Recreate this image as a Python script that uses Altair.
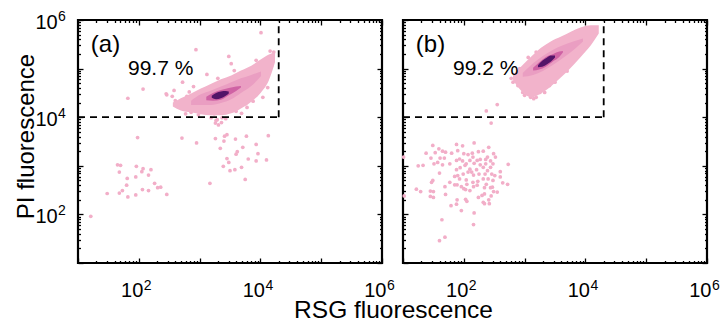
import altair as alt
import numpy as np
import pandas as pd

# Axis range (fluorescence, arbitrary units) and gate thresholds
AXIS_MIN, AXIS_MAX = 10.0, 1.0e6
GATE_RSG, GATE_PI = 2.0e4, 1.0e4

# Events outside the main population, as (log10 RSG, log10 PI)
A_EVENTS = [
    (1.98, 3.58), (2.71, 3.57), (2.95, 3.47), (3.26, 3.56), (3.41, 3.61),
    (3.45, 3.64), (3.40, 3.51), (3.59, 3.55), (3.77, 3.61), (4.13, 3.62),
    (3.34, 3.36), (3.71, 3.38), (3.93, 3.44), (3.62, 3.29), (3.60, 3.24),
    (3.45, 3.15), (3.48, 3.07), (3.80, 3.14), (3.96, 3.25), (3.93, 3.10),
    (4.10, 3.12), (3.39, 2.99), (3.50, 2.90), (3.58, 2.92), (3.69, 2.97),
    (3.75, 2.72), (3.17, 2.64), (1.65, 3.02), (1.70, 3.01), (1.68, 2.87),
    (1.96, 2.99), (2.07, 2.94), (2.05, 2.88), (2.20, 2.92), (2.16, 2.81),
    (1.81, 2.74), (1.95, 2.77), (2.26, 2.64), (2.31, 2.55), (2.36, 2.56),
    (1.80, 2.60), (1.73, 2.49), (1.68, 2.44), (1.48, 2.43), (1.82, 2.36),
    (1.95, 2.40), (2.06, 2.51), (2.16, 2.49), (2.46, 2.41), (1.21, 1.96),
    (3.26, 3.88), (3.31, 3.84), (3.36, 3.89), (3.37, 3.99), (3.29, 3.95),
    (3.69, 4.08), (2.77, 4.07), (2.86, 4.10),
    (2.94, 5.39), (3.48, 5.25), (4.01, 5.74), (4.16, 5.36), (4.22, 5.34),
    (2.07, 4.58), (1.82, 4.39), (2.72, 4.72), (2.46, 4.46), (2.55, 4.43),
    (2.60, 4.34), (2.90, 4.63), (3.12, 4.88), (3.57, 4.96), (3.98, 5.03),
    (4.12, 4.61), (3.92, 4.45), (3.76, 4.28), (2.68, 4.22), (3.24, 4.07),
    (2.89, 4.28),
    # fringe of the main population
    (2.45, 4.48), (2.58, 4.55), (3.52, 5.10), (2.79, 4.43), (3.02, 4.10),
    (3.48, 4.14), (3.78, 4.20), (4.04, 4.41), (4.11, 4.96), (3.93, 5.17),
    (3.27, 3.93), (3.19, 3.99), (3.43, 3.97), (2.64, 4.30), (2.98, 4.05),
    (3.60, 4.12), (3.88, 4.33), (4.18, 5.05), (3.30, 4.80), (2.83, 4.52),
]

B_EVENTS = [
    (1.49, 3.42), (1.59, 3.35), (1.65, 3.30), (1.70, 3.28), (1.38, 3.26),
    (1.53, 3.27), (1.88, 3.44), (1.98, 3.41), (1.90, 3.31), (2.17, 3.47),
    (2.41, 3.38), (2.32, 3.30), (2.24, 3.29), (2.49, 3.25), (2.52, 3.18),
    (2.39, 3.18), (2.14, 3.26), (2.07, 3.23), (2.00, 3.25), (1.80, 3.26),
    (1.46, 3.16), (1.61, 3.16), (1.68, 3.16), (1.57, 3.07), (1.51, 3.04),
    (1.77, 3.04), (1.25, 3.00), (1.33, 3.01), (1.65, 3.02), (1.88, 3.11),
    (1.93, 3.14), (1.98, 3.10), (2.04, 3.04), (2.10, 3.11), (2.15, 3.18),
    (2.22, 3.11), (2.27, 3.13), (2.36, 3.13), (2.44, 3.10), (2.48, 3.04),
    (2.36, 3.04), (2.17, 3.05), (2.27, 3.02), (1.94, 2.96), (1.88, 2.92),
    (2.10, 2.93), (2.07, 2.87), (2.13, 2.87), (2.21, 2.92), (2.16, 2.81),
    (2.25, 2.83), (2.35, 2.83), (2.39, 2.90), (2.46, 2.83), (2.51, 2.80),
    (2.60, 2.88), (2.73, 3.03), (2.44, 2.97), (2.32, 2.97), (2.02, 3.01),
    (1.99, 2.83), (1.90, 2.80), (1.85, 2.78), (1.93, 2.73), (2.04, 2.71),
    (2.15, 2.66), (2.23, 2.68), (2.32, 2.73), (2.40, 2.73), (2.48, 2.70),
    (2.60, 2.77), (2.64, 2.65), (2.72, 2.62), (1.60, 2.85), (1.49, 2.70),
    (1.47, 2.66), (1.77, 2.66), (1.85, 2.61), (1.89, 2.61), (1.96, 2.57),
    (2.05, 2.62), (2.16, 2.57), (2.10, 2.49), (2.03, 2.51), (2.00, 2.53),
    (2.22, 2.60), (2.37, 2.62), (2.44, 2.55), (2.49, 2.47), (2.55, 2.46),
    (2.47, 2.56), (1.69, 2.57), (2.34, 2.55), (1.22, 2.52), (1.29, 2.47),
    (1.45, 2.48), (1.50, 2.47), (1.45, 2.37), (1.50, 2.35), (1.70, 2.41),
    (1.89, 2.30), (2.03, 2.31), (2.05, 2.27), (2.24, 2.35), (2.30, 2.39),
    (2.34, 2.42), (2.45, 2.38), (2.41, 2.30), (2.32, 2.25), (2.34, 2.22),
    (2.42, 2.22), (1.79, 2.18), (1.88, 2.21), (1.96, 2.08), (2.17, 2.03),
    (1.64, 1.89), (2.16, 1.79), (1.69, 1.53), (1.60, 1.46), (1.02, 2.38),
    (1.01, 3.18), (2.37, 4.13), (2.55, 4.26), (2.45, 3.88),
    # fringe of the main population
    (3.10, 4.41), (3.25, 4.51), (2.89, 4.65), (2.86, 4.86), (3.41, 4.65),
    (3.00, 4.45), (3.15, 4.38), (2.97, 4.51), (3.19, 4.41), (3.33, 4.51),
    (2.81, 4.72), (2.95, 4.89), (3.06, 5.23), (3.19, 5.34), (2.78, 4.80),
    (3.50, 4.72), (3.70, 4.95), (2.92, 5.00),
]

# Density levels of the main population: log10 RSG columns with the
# lower and upper log10 PI bound of the level at each column
A_L1_X = [2.56, 2.69, 2.86, 3.02, 3.19, 3.35, 3.52, 3.68, 3.85, 4.01, 4.14, 4.24]
A_L1_LO = [4.22, 4.14, 4.10, 4.06, 4.04, 4.04, 4.08, 4.18, 4.32, 4.51, 4.76, 5.13]
A_L1_HI = [4.30, 4.39, 4.49, 4.59, 4.69, 4.78, 4.86, 4.96, 5.06, 5.19, 5.29, 5.33]
A_L2_X = [2.86, 3.02, 3.19, 3.35, 3.52, 3.68, 3.85, 4.01]
A_L2_LO = [4.25, 4.25, 4.25, 4.29, 4.37, 4.50, 4.64, 4.85]
A_L2_HI = [4.34, 4.47, 4.55, 4.63, 4.72, 4.80, 4.87, 4.94]
A_L3_X = [3.11, 3.22, 3.35, 3.48, 3.60, 3.68]
A_L3_LO = [4.35, 4.34, 4.36, 4.45, 4.54, 4.61]
A_L3_HI = [4.42, 4.50, 4.56, 4.60, 4.63, 4.64]
A_L4_X = [3.20, 3.27, 3.35, 3.43, 3.48]
A_L4_LO = [4.40, 4.37, 4.39, 4.44, 4.49]
A_L4_HI = [4.44, 4.50, 4.53, 4.54, 4.53]

B_L1_X = [2.81, 2.94, 3.11, 3.27, 3.43, 3.60, 3.76, 3.93, 4.09, 4.22]
B_L1_LO = [4.76, 4.55, 4.41, 4.49, 4.63, 4.82, 5.02, 5.25, 5.48, 5.72]
B_L1_HI = [4.88, 5.04, 5.25, 5.43, 5.56, 5.66, 5.76, 5.85, 5.89, 5.89]
B_L2_X = [2.97, 3.14, 3.30, 3.47, 3.63, 3.80, 3.96]
B_L2_LO = [4.83, 4.87, 4.95, 5.08, 5.22, 5.38, 5.56]
B_L2_HI = [4.91, 5.11, 5.26, 5.39, 5.48, 5.56, 5.62]
B_L3_X = [3.14, 3.24, 3.35, 3.47, 3.57, 3.63]
B_L3_LO = [4.96, 4.98, 5.04, 5.15, 5.24, 5.33]
B_L3_HI = [5.02, 5.13, 5.24, 5.30, 5.35, 5.36]
B_L4_X = [3.22, 3.29, 3.37, 3.43, 3.50]
B_L4_LO = [5.03, 5.04, 5.09, 5.14, 5.23]
B_L4_HI = [5.07, 5.16, 5.23, 5.27, 5.27]

LEVEL_COLORS = ["#f2b3cb", "#ea9ec2", "#cf62a4", "#521468"]
EVENT_COLOR = "#f2aec8"

# Tick labels (base and exponent) and tick positions
LABEL_VALUES = [1e2, 1e4, 1e6]
LABEL_EXPONENTS = ["2", "4", "6"]
MAJOR_TICKS = [10.0 ** k for k in range(1, 7)]
MINOR_TICKS = [m * 10.0 ** k for k in range(1, 6) for m in range(2, 10)]

W, H = 304, 243
FONT = "Liberation Sans"

x_scale = alt.Scale(type="log", domain=[AXIS_MIN, AXIS_MAX], nice=False)
y_scale = alt.Scale(type="log", domain=[AXIS_MIN, AXIS_MAX], nice=False)


def events_frame(pairs):
    lx, ly = zip(*pairs)
    return pd.DataFrame({"rsg": 10 ** np.array(lx), "pi": 10 ** np.array(ly)})


def level_frame(xs, lo, hi):
    return pd.DataFrame({
        "rsg": 10 ** np.array(xs),
        "lo": 10 ** np.array(lo),
        "hi": 10 ** np.array(hi),
    })


def tick_layer(values, size, x_orient, y_orient):
    ax = dict(values=values, tickSize=size, offset=-size, labels=False,
              domain=False, grid=False, ticks=True, tickColor="black",
              tickWidth=1.3)
    return alt.Chart(pd.DataFrame({"v": [100.0]})).mark_point(opacity=0).encode(
        x=alt.X("v:Q", scale=x_scale, title=None, axis=alt.Axis(orient=x_orient, **ax)),
        y=alt.Y("v:Q", scale=y_scale, title=None, axis=alt.Axis(orient=y_orient, **ax)),
    )


def panel(events, levels, letter, percent, show_y):
    layers = []
    layers.append(
        alt.Chart(events_frame(events)).mark_circle(size=14, opacity=1, color=EVENT_COLOR).encode(
            x=alt.X("rsg:Q", scale=x_scale, axis=None),
            y=alt.Y("pi:Q", scale=y_scale, axis=None),
        )
    )
    for (xs, lo, hi), color in zip(levels, LEVEL_COLORS):
        layers.append(
            alt.Chart(level_frame(xs, lo, hi)).mark_area(
                color=color, interpolate="monotone", opacity=1
            ).encode(
                x=alt.X("rsg:Q", scale=x_scale, axis=None),
                y=alt.Y("hi:Q", scale=y_scale, axis=None),
                y2="lo:Q",
            )
        )
    # gate: horizontal PI threshold and vertical RSG threshold
    gate_h = pd.DataFrame({"x1": [AXIS_MIN], "x2": [GATE_RSG], "y": [GATE_PI]})
    gate_v = pd.DataFrame({"x": [GATE_RSG], "y1": [GATE_PI], "y2": [AXIS_MAX]})
    dash = dict(color="black", strokeWidth=1.8, strokeDash=[7, 5])
    layers.append(alt.Chart(gate_h).mark_rule(**dash).encode(
        x=alt.X("x1:Q", scale=x_scale, axis=None), x2="x2:Q",
        y=alt.Y("y:Q", scale=y_scale, axis=None)))
    layers.append(alt.Chart(gate_v).mark_rule(**dash).encode(
        x=alt.X("x:Q", scale=x_scale, axis=None),
        y=alt.Y("y1:Q", scale=y_scale, axis=None), y2="y2:Q"))

    # annotations
    ann = pd.DataFrame({"letter": [letter], "pct": [percent]})
    layers.append(alt.Chart(ann).mark_text(font=FONT, fontSize=24, align="center",
                                           baseline="alphabetic", color="black").encode(
        x=alt.value(27.5), y=alt.value(32), text="letter:N"))
    layers.append(alt.Chart(ann).mark_text(font=FONT, fontSize=21, align="left",
                                           baseline="alphabetic", color="black").encode(
        x=alt.value(50), y=alt.value(55), text="pct:N"))

    # x tick labels
    lab = pd.DataFrame({"v": LABEL_VALUES, "base": ["10"] * 3, "exp": LABEL_EXPONENTS})
    layers.append(alt.Chart(lab).mark_text(font=FONT, fontSize=20, align="right",
                                           baseline="alphabetic", dx=4.5, color="black").encode(
        x=alt.X("v:Q", scale=x_scale, axis=None), y=alt.value(H + 33.5), text="base:N"))
    layers.append(alt.Chart(lab).mark_text(font=FONT, fontSize=14, align="left",
                                           baseline="alphabetic", dx=5, color="black").encode(
        x=alt.X("v:Q", scale=x_scale, axis=None), y=alt.value(H + 26.5), text="exp:N"))

    if show_y:
        layers.append(alt.Chart(lab).mark_text(font=FONT, fontSize=20, align="right",
                                               baseline="alphabetic", dy=9, color="black").encode(
            y=alt.Y("v:Q", scale=y_scale, axis=None), x=alt.value(-20.3), text="base:N"))
        layers.append(alt.Chart(lab).mark_text(font=FONT, fontSize=14, align="left",
                                               baseline="alphabetic", dy=0.5, color="black").encode(
            y=alt.Y("v:Q", scale=y_scale, axis=None), x=alt.value(-20), text="exp:N"))
        titles = pd.DataFrame({"ytitle": ["PI fluorescence"], "xtitle": ["RSG fluorescence"]})
        layers.append(alt.Chart(titles).mark_text(font=FONT, fontSize=24, angle=270,
                                                  align="center", baseline="middle",
                                                  color="black").encode(
            x=alt.value(-51.5), y=alt.value(116.5), text="ytitle:N"))
        layers.append(alt.Chart(titles).mark_text(font=FONT, fontSize=24.5, align="center",
                                                  baseline="alphabetic", color="black").encode(
            x=alt.value(315.5), y=alt.value(298), text="xtitle:N"))

    # inward ticks on all four sides
    layers.append(tick_layer(MINOR_TICKS, 2.5, "bottom", "left"))
    layers.append(tick_layer(MAJOR_TICKS, 5, "bottom", "left"))
    layers.append(tick_layer(MINOR_TICKS, 2.5, "top", "right"))
    layers.append(tick_layer(MAJOR_TICKS, 5, "top", "right"))

    return alt.layer(*layers).resolve_axis(x="independent", y="independent").properties(
        width=W, height=H)


levels_a = [(A_L1_X, A_L1_LO, A_L1_HI), (A_L2_X, A_L2_LO, A_L2_HI),
            (A_L3_X, A_L3_LO, A_L3_HI), (A_L4_X, A_L4_LO, A_L4_HI)]
levels_b = [(B_L1_X, B_L1_LO, B_L1_HI), (B_L2_X, B_L2_LO, B_L2_HI),
            (B_L3_X, B_L3_LO, B_L3_HI), (B_L4_X, B_L4_LO, B_L4_HI)]

chart = alt.HConcatChart(
    hconcat=[
        panel(A_EVENTS, levels_a, "(a)", "99.7 %", True),
        panel(B_EVENTS, levels_b, "(b)", "99.2 %", False),
    ],
    spacing=21,
    bounds="flush",
).properties(
    padding={"left": 13, "top": 8, "right": 2, "bottom": 2},
    background="white",
).configure_view(stroke="black", strokeWidth=2.2, fill="white")

chart.save("out.html", embed_options={"renderer": "svg", "actions": False})
